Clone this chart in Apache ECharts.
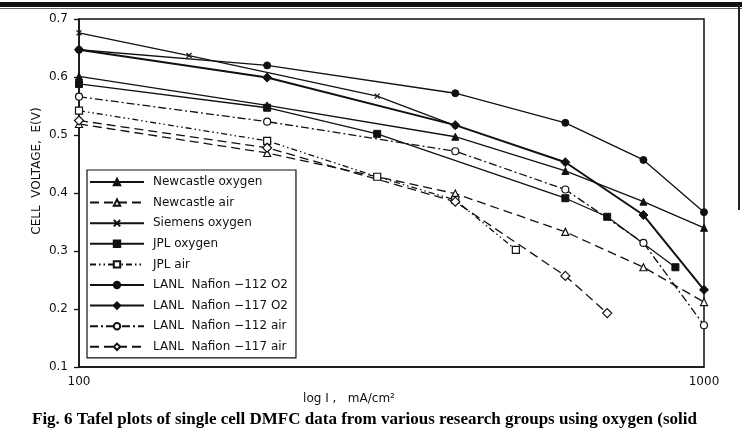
<!DOCTYPE html>
<html>
<head>
<meta charset="utf-8">
<script src="https://cdn.jsdelivr.net/npm/echarts@6/dist/echarts.min.js"></script>
<style>
  html, body { margin: 0; padding: 0; background: #fff; }
  #main { width: 742px; height: 428px; }
</style>
</head>
<body>
<div id="main"></div>
<script>
// current density (mA/cm2) and cell voltage (V)
var currentStd = [100, 200, 400, 600, 800, 1000];
var newcastleOxygen = [0.601, 0.551, 0.497, 0.438, 0.385, 0.340];
var newcastleAir = [0.519, 0.469, 0.399, 0.333, 0.272, 0.212];
var siemensCurrent = [100, 150, 300, 400];
var siemensOxygen = [0.676, 0.637, 0.567, 0.516];
var jplO2Current = [100, 200, 300, 600, 700, 900];
var jplOxygen = [0.588, 0.547, 0.502, 0.391, 0.359, 0.272];
var jplAirCurrent = [100, 200, 300, 400, 500];
var jplAir = [0.542, 0.490, 0.428, 0.388, 0.302];
var lanl112O2 = [0.647, 0.620, 0.572, 0.521, 0.457, 0.367];
var lanl117O2 = [0.647, 0.599, 0.517, 0.453, 0.362, 0.233];
var lanl112Air = [0.566, 0.523, 0.472, 0.406, 0.314, 0.172];
var lanl117AirCurrent = [100, 200, 400, 600, 700];
var lanl117Air = [0.525, 0.478, 0.385, 0.257, 0.193];
var yTicks = [0.1, 0.7, 0.1]; // min, max, step

function pairs(xs, ys){
	var out = [];
	for (var i = 0; i < ys.length; i++) out.push([xs[i], ys[i]]);
	return out;
}

var INK = '#111';
var xPath = 'path://M0,0L10,10M10,0L0,10';

function mk(name, xs, ys, symbol, filled, dash, width, size){
	return {
		name: name,
		type: 'line',
		data: pairs(xs, ys),
		symbol: symbol,
		symbolSize: size || 7,
		showAllSymbol: true,
		z: filled ? 3 : 4,
		lineStyle: { color: INK, width: width || 1.3, type: dash },
		itemStyle: filled === 'x'
			? { color: INK, borderColor: INK, borderWidth: 1.2 }
			: (filled ? { color: INK, borderColor: INK, borderWidth: 1 }
			          : { color: '#fff', borderColor: INK, borderWidth: 1.2 }),
		emphasis: { disabled: true }
	};
}

var dashLong = [9, 5];
var dashDot = [8, 3, 2, 3];
var dashDotDot = [6, 3, 1.5, 3, 1.5, 3];

var series = [
	mk('Newcastle oxygen', currentStd, newcastleOxygen, 'triangle', true, 'solid'),
	mk('Newcastle air', currentStd, newcastleAir, 'triangle', false, dashLong),
	mk('Siemens oxygen', siemensCurrent, siemensOxygen, xPath, 'x', 'solid', 1.3, 5),
	mk('JPL oxygen', jplO2Current, jplOxygen, 'rect', true, 'solid'),
	mk('JPL air', jplAirCurrent, jplAir, 'rect', false, dashDotDot),
	mk('LANL  Nafion \u2212112 O2', currentStd, lanl112O2, 'circle', true, 'solid'),
	mk('LANL  Nafion \u2212117 O2', currentStd, lanl117O2, 'diamond', true, 'solid', 2, 9),
	mk('LANL  Nafion \u2212112 air', currentStd, lanl112Air, 'circle', false, dashDot),
	mk('LANL  Nafion \u2212117 air', lanl117AirCurrent, lanl117Air, 'diamond', false, dashLong, 1.3, 9)
];

var dom = document.getElementById('main');
var myChart = echarts.init(dom, null, { renderer: 'canvas' });
var option = {
	backgroundColor: '#fff',
	animation: false,
	grid: { left: 79, right: 38, top: 19, bottom: 61, show: true, borderColor: INK, borderWidth: 1.5 },
	legend: {
		orient: 'vertical',
		left: 87,
		top: 170,
		padding: [6, 8, 5, 2],
		itemWidth: 54,
		itemHeight: 8,
		itemGap: 8.6,
		borderColor: INK,
		borderWidth: 1.2,
		backgroundColor: '#fff',
		textStyle: { fontFamily: 'DejaVu Sans', fontSize: 12, color: INK, padding: [0, 0, 0, 4] },
		data: series.map(function(s){ return s.name; })
	},
	xAxis: {
		type: 'log',
		logBase: 10,
		min: 100,
		max: 1000,
		axisLine: { lineStyle: { color: INK, width: 1.5 } },
		axisTick: { show: false },
		splitLine: { show: false },
		axisLabel: { color: INK, fontFamily: 'DejaVu Sans', fontSize: 12, margin: 9,
			formatter: function(v){ return String(Math.round(v)); } }
	},
	yAxis: {
		type: 'value',
		min: yTicks[0],
		max: yTicks[1],
		interval: yTicks[2],
		axisLine: { show: true, lineStyle: { color: INK, width: 1.5 } },
		axisTick: { show: true, length: 5, lineStyle: { color: INK, width: 1.3 } },
		splitLine: { show: false },
		axisLabel: {
			color: INK, fontFamily: 'DejaVu Sans', fontSize: 12, margin: 11,
			formatter: function(v){ return v.toFixed(1); }
		}
	},
	graphic: [
		{ type: 'rect', shape: { x: 0, y: 2, width: 742, height: 5 }, style: { fill: '#111' } },
		{ type: 'rect', shape: { x: 0, y: 8, width: 742, height: 1 }, style: { fill: '#666' } },
		{ type: 'rect', shape: { x: 738, y: 5, width: 2, height: 205 }, style: { fill: '#222' } },
		{ type: 'text', x: 37, y: 171, rotation: Math.PI / 2,
		  style: { text: 'CELL  VOLTAGE,  E(V)', font: '12px "DejaVu Sans"', fill: INK, align: 'center', verticalAlign: 'middle' } },
		{ type: 'text', x: 349, y: 399,
		  style: { text: 'log I ,   mA/cm\u00B2', font: '12px "DejaVu Sans"', fill: INK, align: 'center', verticalAlign: 'middle' } },
		{ type: 'text', x: 32, y: 420,
		  style: { text: 'Fig. 6 Tafel plots of single cell DMFC data from various research groups using oxygen (solid',
		           font: 'bold 17px "Liberation Serif"', fill: '#000', align: 'left', verticalAlign: 'middle' } }
	],
	series: series
};
if (option && typeof option === "object") {
	myChart.setOption(option, true);
}
</script>
</body>
</html>
